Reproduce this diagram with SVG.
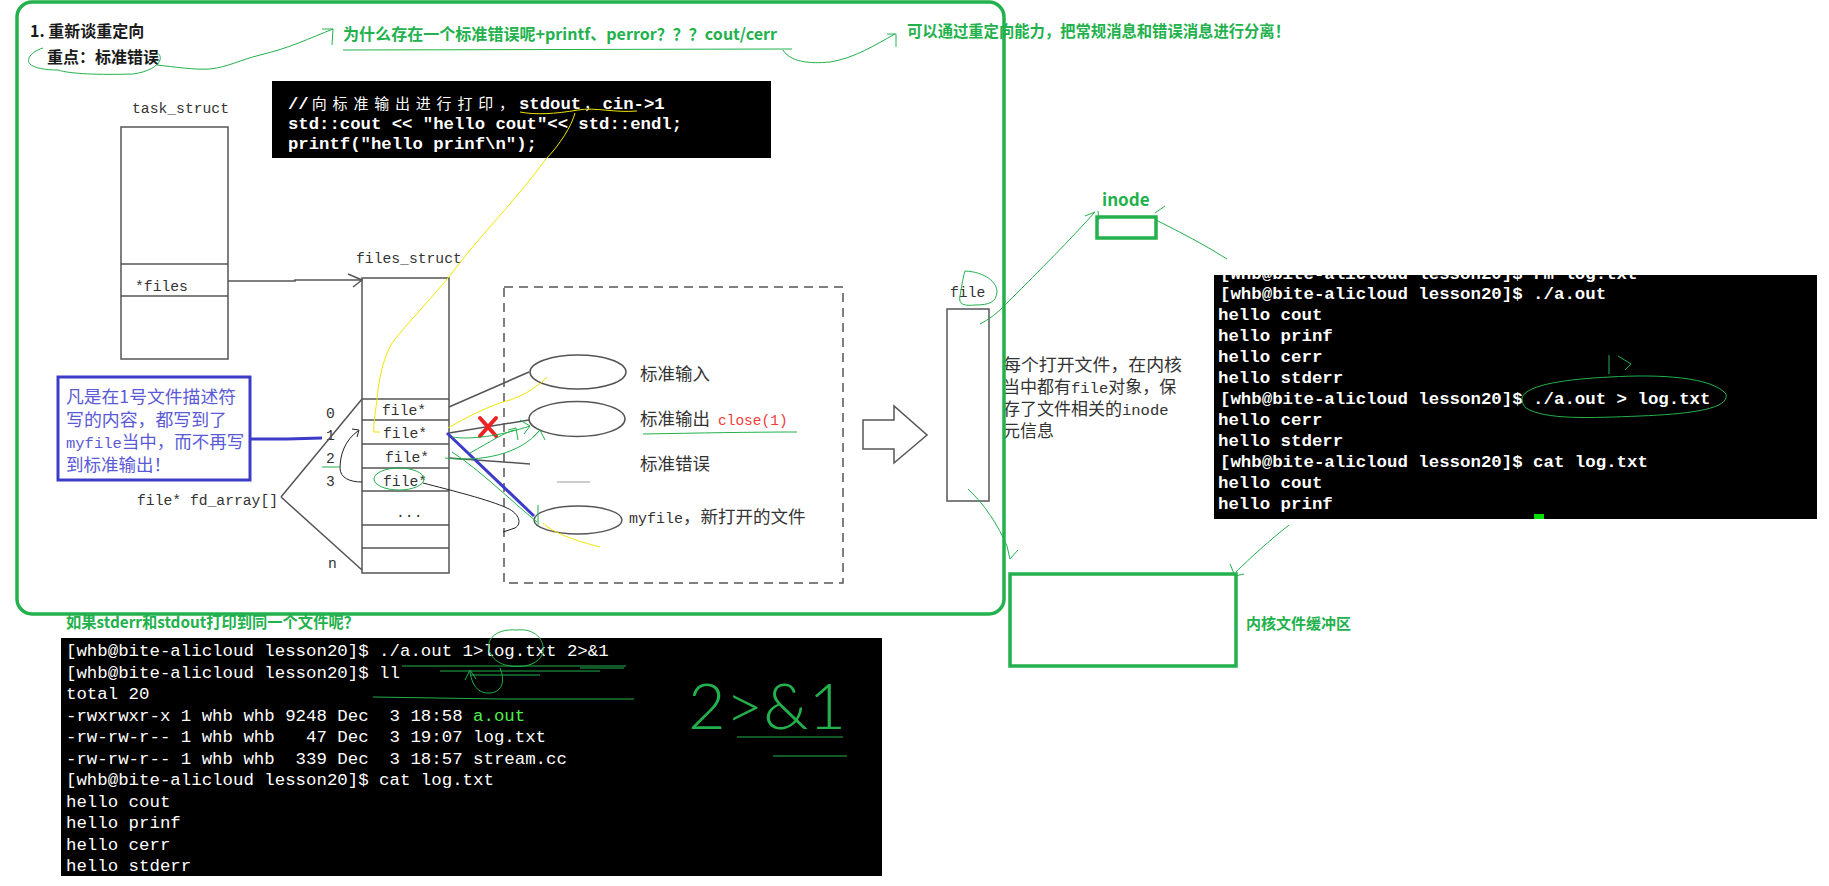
<svg xmlns="http://www.w3.org/2000/svg" width="1829" height="886" viewBox="0 0 1829 886">
<defs>
<style>
.cjk{font-family:"Noto Sans CJK SC","Noto Sans",sans-serif}
.gb{font-family:"Noto Sans CJK SC","Noto Sans",sans-serif;font-weight:bold;fill:#22b14c}
.mono{font-family:"Liberation Mono","DejaVu Sans Mono",monospace}
.lbl{font-family:"Liberation Mono","DejaVu Sans Mono",monospace;font-size:14.7px;fill:#333}
.term{font-family:"Liberation Mono","DejaVu Sans Mono",monospace;font-size:17.4px;fill:#fff}
.box{fill:#fff;stroke:#555;stroke-width:1.5}
.ln{fill:none;stroke:#555;stroke-width:1.5}
.g1{fill:none;stroke:#22b14c;stroke-width:1}
.g3{fill:none;stroke:#22b14c;stroke-width:3.5}
.yl{fill:none;stroke:#f2e600;stroke-width:1}
.bl{fill:none;stroke:#3c3cc8;stroke-width:3}
.th{fill:none;stroke:#222;stroke-width:1}
</style>
<clipPath id="rtclip"><rect x="1214" y="275" width="603" height="244"/></clipPath>
</defs>
<rect width="1829" height="886" fill="#fff"/>

<g id="header">
<text x="30" y="37" class="cjk" font-size="16" font-weight="bold" fill="#1a1a1a">1. 重新谈重定向</text>
<text x="47" y="63" class="cjk" font-size="16" font-weight="bold" fill="#1a1a1a">重点：标准错误</text>
<text x="343" y="40" class="gb" font-size="16" textLength="434" lengthAdjust="spacingAndGlyphs">为什么存在一个标准错误呢+printf、perror？？？cout/cerr</text>
<text x="907" y="37" class="gb" font-size="16" textLength="383" lengthAdjust="spacingAndGlyphs">可以通过重定向能力，把常规消息和错误消息进行分离！</text>
</g>

<g id="code-box">
<rect x="272" y="81" width="499" height="77" fill="#000"/>
<text class="mono" font-size="17.3" font-weight="bold" fill="#fff" y="109"><tspan x="288">//</tspan></text>
<text class="cjk" font-size="15" fill="#fff" y="109" x="311.8 332.6 353.4 374.2 395 415.8 436.6 457.4 478.2 499">向标准输出进行打印，</text>
<text class="mono" font-size="17.3" font-weight="bold" fill="#fff" y="109"><tspan x="519">stdout</tspan></text>
<text class="cjk" font-size="15" fill="#fff" y="109" x="584">，</text>
<text class="mono" font-size="17.3" font-weight="bold" fill="#fff" y="109"><tspan x="602.5">cin-&gt;1</tspan></text>
<text class="mono" font-size="17.3" font-weight="bold" fill="#fff" x="288" y="129">std::cout &lt;&lt; "hello cout"&lt;&lt; std::endl;</text>
<text class="mono" font-size="17.3" font-weight="bold" fill="#fff" x="288" y="149">printf("hello prinf\n");</text>
</g>

<g id="task-struct">
<text x="132" y="113" class="lbl">task_struct</text>
<rect x="121" y="127" width="107" height="232" class="box"/>
<line x1="121" y1="264" x2="228" y2="264" class="ln"/>
<line x1="121" y1="296" x2="228" y2="296" class="ln"/>
<text x="135" y="291" class="lbl" font-size="15.5">*files</text>
</g>

<g id="files-struct">
<text x="356" y="263" class="lbl">files_struct</text>
<rect x="362" y="278" width="87" height="295" class="box"/>
<g class="ln">
<line x1="362" y1="399" x2="449" y2="399"/>
<line x1="362" y1="420" x2="449" y2="420"/>
<line x1="362" y1="444" x2="449" y2="444"/>
<line x1="362" y1="468" x2="449" y2="468"/>
<line x1="362" y1="491" x2="449" y2="491"/>
<line x1="362" y1="525" x2="449" y2="525"/>
<line x1="362" y1="548" x2="449" y2="548"/>
</g>
<text x="382" y="415" class="lbl" font-size="15">file*</text>
<text x="383" y="438" class="lbl" font-size="15">file*</text>
<text x="385" y="462" class="lbl" font-size="15">file*</text>
<text x="383" y="486" class="lbl" font-size="15">file*</text>
<text x="396" y="517" class="lbl" font-size="15">...</text>
<text x="326" y="418" class="lbl" font-size="15">0</text>
<text x="326" y="440" class="lbl" font-size="15">1</text>
<text x="326" y="463" class="lbl" font-size="15">2</text>
<text x="326" y="486" class="lbl" font-size="15">3</text>
<text x="328" y="568" class="lbl" font-size="15">n</text>
<text x="137" y="505" class="lbl" font-size="14.5">file* fd_array[]</text>
</g>

<g id="note-box">
<rect x="58" y="377" width="192" height="103" fill="#fff" stroke="#3c3cc8" stroke-width="3"/>
<g class="cjk" font-size="17.5" fill="#5a5ad6">
<text x="66" y="403" textLength="170" lengthAdjust="spacingAndGlyphs">凡是在1号文件描述符</text>
<text x="66" y="426" textLength="161" lengthAdjust="spacingAndGlyphs">写的内容，都写到了</text>
<text x="66" y="448"><tspan class="mono" font-size="15.5">myfile</tspan>当中，而不再写</text>
<text x="66" y="471">到标准输出！</text>
</g>
</g>

<g id="open-files">
<rect x="504" y="287" width="339" height="296" fill="none" stroke="#555" stroke-width="1.5" stroke-dasharray="9 6"/>
<ellipse cx="578" cy="372" rx="48" ry="17" class="box"/>
<ellipse cx="577" cy="419" rx="48" ry="17.5" class="box"/>
<ellipse cx="578" cy="520" rx="44" ry="14" class="box"/>
<g class="cjk" font-size="17.5" fill="#333">
<text x="640" y="380">标准输入</text>
<text x="640" y="425">标准输出</text>
<text x="640" y="470">标准错误</text>
<text x="629" y="523"><tspan class="mono" font-size="15">myfile</tspan>，新打开的文件</text>
</g>
<text x="718" y="425" class="mono" font-size="14.5" fill="#f03c3c">close(1)</text>
<line x1="557" y1="482" x2="590" y2="482" stroke="#bbb" stroke-width="1.5"/>
</g>

<g id="kernel-file">
<polygon points="863,420 894,420 894,406 927,435 894,463 894,449 863,449" class="box"/>
<text x="950" y="297" class="lbl" font-size="15.5">file</text>
<rect x="947" y="309" width="42" height="192" class="box"/>
<g class="cjk" font-size="17" fill="#333">
<text x="1003" y="371" textLength="179" lengthAdjust="spacingAndGlyphs">每个打开文件，在内核</text>
<text x="1003" y="393">当中都有<tspan class="mono" font-size="15.5">file</tspan>对象，保</text>
<text x="1003" y="415">存了文件相关的<tspan class="mono" font-size="15.5">inode</tspan></text>
<text x="1003" y="437">元信息</text>
</g>
</g>

<g id="inode">
<text x="1102" y="206" class="gb" font-size="17">inode</text>
<rect x="1097" y="217" width="59" height="21" class="g3" stroke-width="3"/>
</g>

<g id="kernel-buffer">
<rect x="1010" y="574" width="226" height="92" class="g3" stroke-width="4"/>
<text x="1246" y="629" class="gb" font-size="15">内核文件缓冲区</text>
</g>

<g id="terminal-right">
<rect x="1214" y="275" width="603" height="244" fill="#000"/>
<g class="term" font-weight="bold" clip-path="url(#rtclip)">
<text x="1220" y="279">[whb@bite-alicloud lesson20]$ rm log.txt</text>
<text x="1220" y="299">[whb@bite-alicloud lesson20]$ ./a.out</text>
<text x="1218" y="320">hello cout</text>
<text x="1218" y="341">hello prinf</text>
<text x="1218" y="362">hello cerr</text>
<text x="1218" y="383">hello stderr</text>
<text x="1220" y="404">[whb@bite-alicloud lesson20]$ ./a.out &gt; log.txt</text>
<text x="1218" y="425">hello cerr</text>
<text x="1218" y="446">hello stderr</text>
<text x="1220" y="467">[whb@bite-alicloud lesson20]$ cat log.txt</text>
<text x="1218" y="488">hello cout</text>
<text x="1218" y="509">hello prinf</text>
</g>
<rect x="1534" y="514" width="10" height="5" fill="#00e000"/>
</g>

<g id="terminal-bottom">
<text x="66" y="628" class="gb" font-size="16" textLength="293" lengthAdjust="spacingAndGlyphs">如果stderr和stdout打印到同一个文件呢？</text>
<rect x="61" y="638" width="821" height="238" fill="#000"/>
<g class="term">
<text x="66" y="656">[whb@bite-alicloud lesson20]$ ./a.out 1&gt;log.txt 2&gt;&amp;1</text>
<text x="66" y="677.5">[whb@bite-alicloud lesson20]$ ll</text>
<text x="66" y="699">total 20</text>
<text x="66" y="720.5">-rwxrwxr-x 1 whb whb 9248 Dec&#160;&#160;3 18:58 <tspan fill="#4cf04c">a.out</tspan></text>
<text x="66" y="742">-rw-rw-r-- 1 whb whb&#160;&#160;&#160;47 Dec&#160;&#160;3 19:07 log.txt</text>
<text x="66" y="763.5">-rw-rw-r-- 1 whb whb&#160;&#160;339 Dec&#160;&#160;3 18:57 stream.cc</text>
<text x="66" y="785">[whb@bite-alicloud lesson20]$ cat log.txt</text>
<text x="66" y="806.5">hello cout</text>
<text x="66" y="828">hello prinf</text>
<text x="66" y="849.5">hello cerr</text>
<text x="66" y="871">hello stderr</text>
</g>
<text x="688" y="729" font-family="Lato,'Open Sans',sans-serif" font-weight="300" font-size="64" fill="#22b14c" textLength="158" lengthAdjust="spacingAndGlyphs">2&gt;&amp;1</text>
</g>

<g id="connectors">
<path d="M228,281 L295,281 L295,280 L362,280" class="ln"/>
<path d="M348,274 L362,280 L353,287" class="ln"/>
<path d="M281,497 L362,399 M281,497 L362,570" class="ln"/>
<path d="M449,407 L529,372" class="ln"/>
<path d="M449,433 L529,420" class="ln"/>
<path d="M449,458 L530,464" class="ln"/>
<path d="M362,482 C350,482 340,478 340,468 C340,455 345,440 358,431" class="th"/>
<path d="M352,429 L359,430 L357,437" class="th"/>
<path d="M423,483 C450,490 490,500 507,508 C520,514 522,524 515,528 L503,532" class="th"/>
<path d="M250,439 L287,439 L322,438" class="bl"/>
<path d="M447,433 L534,516" class="bl"/>
<path d="M480,418 L496,436 M496,418 L480,436" stroke="#ee2222" stroke-width="4" stroke-linecap="round"/>
<path d="M520,112 C535,115 555,114 578,110 C595,107 615,113 637,111" class="yl"/>
<path d="M575,113 C572,125 560,145 545,160 C520,195 490,225 462,260 L448,278 C430,300 410,320 392,343 C382,360 378,385 377,400 C375,415 373,428 374,432 L380,432" class="yl"/>
<path d="M448,428 C465,418 490,405 510,400 C525,395 540,385 547,377" class="yl"/>
<path d="M543,523 C550,530 565,538 600,547" class="yl"/>
<g class="g1">
<path d="M43,48 C30,52 26,60 30,64 C34,68 45,70 58,70 C70,74 100,75 133,74 C148,72 158,66 160,60 C161,56 159,54 157,53"/>
<path d="M157,65 C175,67 195,70 210,69 C228,67 240,60 260,55 C290,48 310,38 333,29"/>
<path d="M322,29 L333,29 L332,45"/>
<path d="M343,50 L792,49"/>
<path d="M783,50 C790,62 810,64 830,62 C855,58 875,45 895,34"/>
<path d="M887,34 L896,34 L896,47"/>
<ellipse cx="399" cy="479" rx="25" ry="11"/>
<path d="M322,467 L340,467"/>
<path d="M643,434 C700,433 750,432 797,432"/>
<path d="M452,437 C470,440 500,436 530,426"/>
<path d="M520,420 L530,426 L524,434"/>
<path d="M445,458 C480,462 520,455 540,430"/>
<path d="M533,437 L540,430 L545,440"/>
<path d="M470,453 C490,442 505,432 515,430 M508,430 L516,428 L518,440"/>
<path d="M452,452 C480,470 510,500 537,522"/>
<path d="M538,505 L538,525"/>
<path d="M965,271 C985,272 997,282 997,292 C996,302 990,305 975,305 C965,306 958,305 960,296 C962,285 963,277 965,271"/>
<path d="M980,324 C995,316 1000,310 1010,300 C1040,270 1070,240 1095,212"/>
<path d="M1085,216 L1095,212 M1098,211 L1099,220"/>
<path d="M1156,220 C1180,232 1205,245 1227,259"/>
<path d="M1155,213 L1165,206"/>
<path d="M968,489 C985,505 998,525 1007,546 L1010,559 L1018,550"/>
<path d="M1289,525 C1270,540 1250,558 1236,572"/>
<path d="M1230,564 L1235,576 L1244,574"/>
<path d="M1522,398 C1526,384 1570,379 1610,377 C1660,374 1712,377 1726,394 C1730,409 1690,414 1640,416 C1590,418 1545,420 1526,408 C1522,404 1522,400 1522,398"/>
<path d="M1609,355 L1609,374 M1618,356 L1631,364 L1625,370"/>
<path d="M402,666 L626,666 M440,671 L600,671 M470,675 L540,675 M580,668 L624,668"/>
<path d="M373,697 L500,699 L634,699"/>
<path d="M517,630 C535,628 545,640 543,652 C540,664 525,668 510,666 C495,664 485,652 490,640 C495,632 505,629 517,630"/>
<path d="M500,668 C505,680 503,692 490,693 C478,694 472,685 470,672 M465,680 L470,670 L476,679"/>
<path d="M737,737 L843,737 M773,756 L847,756"/>
</g>
</g>

<g id="frame">
<rect x="17" y="2" width="987" height="612" rx="15" class="g3"/>
</g>
</svg>
